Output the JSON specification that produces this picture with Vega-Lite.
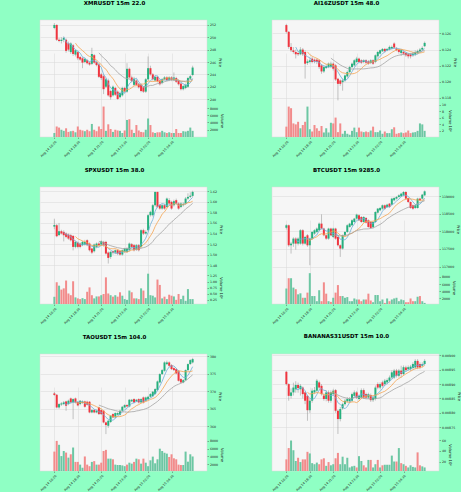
{
"$schema": "https://vega.github.io/schema/vega-lite/v6.json",
"background": "#8fffc4",
"padding": {"left": 38, "top": 0, "right": 0, "bottom": 0},
"config": {
 "view": {"fill": "#f6f6f6", "stroke": "#d9d9d9", "strokeWidth": 0.5},
 "axis": {"labelFont": "DejaVu Sans", "titleFont": "DejaVu Sans", "labelFontSize": 3.2, "titleFontSize": 3.8, "titleFontWeight": "normal", "labelColor": "#222222", "titleColor": "#222222", "gridColor": "#d8d8d8", "gridWidth": 0.5, "tickSize": 1.5, "tickColor": "#555555", "tickWidth": 0.5, "domain": false, "labelPadding": 1, "titlePadding": 2, "labelOverlap": false, "labelBound": false, "labelFlush": false},
 "axisY": {"tickCount": 20},
 "title": {"font": "DejaVu Sans", "fontSize": 5.5, "fontWeight": "bold", "color": "#000000", "offset": 13.5, "dx": -9}
},
"datasets": {
"xmr": [
{"i":0,"o":251.5,"h":252.3,"l":251.3,"c":252.0,"v":1100},
{"i":1,"o":252.0,"h":252.1,"l":249.4,"c":249.6,"v":2900},
{"i":2,"o":249.6,"h":249.9,"l":249.2,"c":249.4,"v":2600},
{"i":3,"o":249.4,"h":250.0,"l":249.0,"c":249.6,"v":2000},
{"i":4,"o":249.6,"h":250.1,"l":249.2,"c":249.9,"v":1700},
{"i":5,"o":249.6,"h":249.8,"l":247.5,"c":247.8,"v":2400},
{"i":6,"o":249.0,"h":249.3,"l":247.7,"c":248.0,"v":1400},
{"i":7,"o":247.6,"h":249.2,"l":247.3,"c":249.0,"v":1600},
{"i":8,"o":248.7,"h":248.9,"l":247.0,"c":247.3,"v":1700},
{"i":9,"o":247.2,"h":248.0,"l":246.9,"c":247.9,"v":1300},
{"i":10,"o":247.6,"h":247.8,"l":246.3,"c":246.6,"v":2900},
{"i":11,"o":246.8,"h":247.0,"l":246.2,"c":246.4,"v":2000},
{"i":12,"o":246.6,"h":246.8,"l":245.0,"c":245.9,"v":1800},
{"i":13,"o":246.0,"h":246.7,"l":245.8,"c":246.5,"v":1600},
{"i":14,"o":246.3,"h":246.5,"l":245.6,"c":245.8,"v":2000},
{"i":15,"o":245.9,"h":246.1,"l":245.4,"c":245.6,"v":1600},
{"i":16,"o":245.7,"h":248.3,"l":245.5,"c":247.3,"v":3600},
{"i":17,"o":247.1,"h":247.3,"l":245.7,"c":245.9,"v":2000},
{"i":18,"o":246.0,"h":246.2,"l":245.3,"c":245.5,"v":1600},
{"i":19,"o":245.6,"h":245.8,"l":243.4,"c":243.6,"v":2900},
{"i":20,"o":244.0,"h":244.2,"l":243.1,"c":243.4,"v":2200},
{"i":21,"o":243.7,"h":244.0,"l":240.8,"c":241.6,"v":8400},
{"i":22,"o":242.0,"h":243.4,"l":241.8,"c":243.2,"v":1700},
{"i":23,"o":243.0,"h":243.3,"l":240.4,"c":240.6,"v":3500},
{"i":24,"o":241.3,"h":241.5,"l":239.9,"c":240.3,"v":2200},
{"i":25,"o":240.6,"h":242.2,"l":240.4,"c":242.0,"v":1400},
{"i":26,"o":241.8,"h":242.0,"l":240.5,"c":240.7,"v":2000},
{"i":27,"o":241.2,"h":241.4,"l":239.9,"c":240.0,"v":1800},
{"i":28,"o":240.3,"h":241.2,"l":240.1,"c":241.0,"v":1700},
{"i":29,"o":240.6,"h":242.0,"l":240.4,"c":241.8,"v":1100},
{"i":30,"o":241.8,"h":242.0,"l":241.0,"c":241.2,"v":1800},
{"i":31,"o":241.2,"h":245.8,"l":241.0,"c":244.9,"v":4700},
{"i":32,"o":244.9,"h":245.1,"l":243.3,"c":243.5,"v":4900},
{"i":33,"o":243.5,"h":243.8,"l":242.7,"c":242.9,"v":2000},
{"i":34,"o":242.3,"h":243.6,"l":242.1,"c":243.3,"v":1100},
{"i":35,"o":243.0,"h":243.2,"l":242.1,"c":242.3,"v":3300},
{"i":36,"o":242.4,"h":242.6,"l":241.7,"c":241.9,"v":1800},
{"i":37,"o":242.3,"h":242.5,"l":241.1,"c":241.3,"v":1400},
{"i":38,"o":241.9,"h":242.1,"l":241.0,"c":241.2,"v":1300},
{"i":39,"o":241.2,"h":243.4,"l":241.0,"c":243.2,"v":2000},
{"i":40,"o":243.2,"h":246.9,"l":243.0,"c":245.0,"v":5100},
{"i":41,"o":245.0,"h":245.4,"l":243.8,"c":244.0,"v":3300},
{"i":42,"o":244.0,"h":244.2,"l":243.0,"c":243.2,"v":1300},
{"i":43,"o":243.0,"h":243.8,"l":242.8,"c":243.6,"v":1100},
{"i":44,"o":243.6,"h":243.8,"l":242.7,"c":242.9,"v":1300},
{"i":45,"o":243.0,"h":243.2,"l":242.2,"c":242.4,"v":1300},
{"i":46,"o":242.6,"h":243.4,"l":242.4,"c":243.2,"v":1700},
{"i":47,"o":243.2,"h":243.7,"l":243.0,"c":243.5,"v":1300},
{"i":48,"o":243.5,"h":243.7,"l":242.9,"c":243.1,"v":1100},
{"i":49,"o":243.1,"h":243.7,"l":242.9,"c":243.5,"v":1300},
{"i":50,"o":243.5,"h":243.7,"l":242.9,"c":243.1,"v":1100},
{"i":51,"o":243.1,"h":244.3,"l":242.9,"c":243.5,"v":1100},
{"i":52,"o":243.4,"h":243.6,"l":242.6,"c":242.8,"v":2200},
{"i":53,"o":243.0,"h":243.2,"l":242.2,"c":242.4,"v":1100},
{"i":54,"o":242.5,"h":242.7,"l":241.4,"c":241.6,"v":1100},
{"i":55,"o":241.6,"h":242.3,"l":241.4,"c":242.1,"v":1600},
{"i":56,"o":241.8,"h":242.5,"l":241.6,"c":242.3,"v":1500},
{"i":57,"o":242.0,"h":243.6,"l":241.8,"c":243.4,"v":1700},
{"i":58,"o":243.3,"h":243.9,"l":243.1,"c":243.7,"v":2600},
{"i":59,"o":243.9,"h":245.4,"l":243.7,"c":245.1,"v":1700}
],
"ai16z": [
{"i":0,"o":0.12704,"h":0.12720,"l":0.12600,"c":0.12620,"v":3200000},
{"i":1,"o":0.12620,"h":0.12630,"l":0.12410,"c":0.12433,"v":9400000},
{"i":2,"o":0.12433,"h":0.12480,"l":0.12370,"c":0.12392,"v":8900000},
{"i":3,"o":0.12390,"h":0.12430,"l":0.12350,"c":0.12370,"v":4200000},
{"i":4,"o":0.12370,"h":0.12400,"l":0.12290,"c":0.12342,"v":3900000},
{"i":5,"o":0.12358,"h":0.12380,"l":0.12320,"c":0.12342,"v":4700000},
{"i":6,"o":0.12342,"h":0.12430,"l":0.12330,"c":0.12400,"v":2700000},
{"i":7,"o":0.12400,"h":0.12420,"l":0.12320,"c":0.12342,"v":3700000},
{"i":8,"o":0.12370,"h":0.12390,"l":0.12040,"c":0.12225,"v":4700000},
{"i":9,"o":0.12233,"h":0.12280,"l":0.12210,"c":0.12254,"v":9400000},
{"i":10,"o":0.12246,"h":0.12300,"l":0.12230,"c":0.12267,"v":2400000},
{"i":11,"o":0.12288,"h":0.12310,"l":0.12230,"c":0.12246,"v":1700000},
{"i":12,"o":0.12275,"h":0.12290,"l":0.12230,"c":0.12254,"v":3700000},
{"i":13,"o":0.12275,"h":0.12290,"l":0.12220,"c":0.12246,"v":2700000},
{"i":14,"o":0.12267,"h":0.12280,"l":0.12160,"c":0.12183,"v":1900000},
{"i":15,"o":0.12204,"h":0.12220,"l":0.12100,"c":0.12129,"v":3400000},
{"i":16,"o":0.12129,"h":0.12200,"l":0.12110,"c":0.12183,"v":1400000},
{"i":17,"o":0.12171,"h":0.12220,"l":0.12160,"c":0.12196,"v":2700000},
{"i":18,"o":0.12183,"h":0.12240,"l":0.12170,"c":0.12225,"v":1400000},
{"i":19,"o":0.12183,"h":0.12250,"l":0.12170,"c":0.12225,"v":4400000},
{"i":20,"o":0.12225,"h":0.12240,"l":0.12140,"c":0.12163,"v":4200000},
{"i":21,"o":0.12204,"h":0.12220,"l":0.12010,"c":0.12029,"v":6000000},
{"i":22,"o":0.12038,"h":0.12050,"l":0.11770,"c":0.11975,"v":1500000},
{"i":23,"o":0.12017,"h":0.12030,"l":0.11950,"c":0.11975,"v":4200000},
{"i":24,"o":0.11996,"h":0.12040,"l":0.11890,"c":0.12017,"v":1000000},
{"i":25,"o":0.12017,"h":0.12090,"l":0.12000,"c":0.12079,"v":1900000},
{"i":26,"o":0.12067,"h":0.12140,"l":0.12050,"c":0.12121,"v":1000000},
{"i":27,"o":0.12121,"h":0.12200,"l":0.12110,"c":0.12183,"v":700000},
{"i":28,"o":0.12183,"h":0.12240,"l":0.12170,"c":0.12225,"v":1900000},
{"i":29,"o":0.12204,"h":0.12280,"l":0.12190,"c":0.12267,"v":2900000},
{"i":30,"o":0.12246,"h":0.12310,"l":0.12230,"c":0.12288,"v":1500000},
{"i":31,"o":0.12288,"h":0.12300,"l":0.12230,"c":0.12246,"v":2900000},
{"i":32,"o":0.12267,"h":0.12280,"l":0.12220,"c":0.12238,"v":1700000},
{"i":33,"o":0.12246,"h":0.12280,"l":0.12230,"c":0.12267,"v":1500000},
{"i":34,"o":0.12267,"h":0.12280,"l":0.12220,"c":0.12238,"v":1700000},
{"i":35,"o":0.12254,"h":0.12270,"l":0.12210,"c":0.12225,"v":1500000},
{"i":36,"o":0.12233,"h":0.12280,"l":0.12220,"c":0.12267,"v":2000000},
{"i":37,"o":0.12267,"h":0.12280,"l":0.12210,"c":0.12225,"v":3200000},
{"i":38,"o":0.12246,"h":0.12340,"l":0.12230,"c":0.12329,"v":1500000},
{"i":39,"o":0.12317,"h":0.12380,"l":0.12300,"c":0.12371,"v":1500000},
{"i":40,"o":0.12350,"h":0.12400,"l":0.12340,"c":0.12392,"v":2000000},
{"i":41,"o":0.12379,"h":0.12420,"l":0.12370,"c":0.12408,"v":1000000},
{"i":42,"o":0.12408,"h":0.12420,"l":0.12360,"c":0.12379,"v":1700000},
{"i":43,"o":0.12390,"h":0.12420,"l":0.12380,"c":0.12408,"v":1200000},
{"i":44,"o":0.12400,"h":0.12450,"l":0.12390,"c":0.12433,"v":1200000},
{"i":45,"o":0.12413,"h":0.12450,"l":0.12400,"c":0.12433,"v":2400000},
{"i":46,"o":0.12475,"h":0.12490,"l":0.12410,"c":0.12425,"v":3000000},
{"i":47,"o":0.12413,"h":0.12430,"l":0.12380,"c":0.12392,"v":1000000},
{"i":48,"o":0.12400,"h":0.12410,"l":0.12350,"c":0.12371,"v":1200000},
{"i":49,"o":0.12358,"h":0.12410,"l":0.12320,"c":0.12392,"v":1400000},
{"i":50,"o":0.12371,"h":0.12390,"l":0.12330,"c":0.12350,"v":1200000},
{"i":51,"o":0.12358,"h":0.12370,"l":0.12310,"c":0.12329,"v":1400000},
{"i":52,"o":0.12342,"h":0.12360,"l":0.12290,"c":0.12317,"v":2000000},
{"i":53,"o":0.12342,"h":0.12360,"l":0.12290,"c":0.12317,"v":1200000},
{"i":54,"o":0.12329,"h":0.12370,"l":0.12310,"c":0.12350,"v":1400000},
{"i":55,"o":0.12338,"h":0.12390,"l":0.12320,"c":0.12371,"v":1500000},
{"i":56,"o":0.12358,"h":0.12400,"l":0.12340,"c":0.12383,"v":1900000},
{"i":57,"o":0.12379,"h":0.12420,"l":0.12360,"c":0.12400,"v":4200000},
{"i":58,"o":0.12400,"h":0.12440,"l":0.12390,"c":0.12421,"v":3900000},
{"i":59,"o":0.12442,"h":0.12500,"l":0.12430,"c":0.12483,"v":1900000}
],
"spx": [
{"i":0,"o":1.5530,"h":1.5680,"l":1.5480,"c":1.5560,"v":375000},
{"i":1,"o":1.5556,"h":1.5580,"l":1.5330,"c":1.5348,"v":970000},
{"i":2,"o":1.5370,"h":1.5600,"l":1.5350,"c":1.5443,"v":830000},
{"i":3,"o":1.5443,"h":1.5470,"l":1.5380,"c":1.5400,"v":670000},
{"i":4,"o":1.5430,"h":1.5460,"l":1.5250,"c":1.5367,"v":720000},
{"i":5,"o":1.5399,"h":1.5420,"l":1.5310,"c":1.5336,"v":1040000},
{"i":6,"o":1.5380,"h":1.5400,"l":1.5280,"c":1.5304,"v":510000},
{"i":7,"o":1.5367,"h":1.5390,"l":1.5250,"c":1.5272,"v":440000},
{"i":8,"o":1.5354,"h":1.5370,"l":1.5080,"c":1.5146,"v":1010000},
{"i":9,"o":1.5146,"h":1.5260,"l":1.5120,"c":1.5241,"v":350000},
{"i":10,"o":1.5228,"h":1.5250,"l":1.5120,"c":1.5146,"v":310000},
{"i":11,"o":1.5209,"h":1.5230,"l":1.5120,"c":1.5146,"v":280000},
{"i":12,"o":1.5178,"h":1.5260,"l":1.5160,"c":1.5241,"v":320000},
{"i":13,"o":1.5190,"h":1.5280,"l":1.5170,"c":1.5241,"v":280000},
{"i":14,"o":1.5272,"h":1.5290,"l":1.5160,"c":1.5178,"v":580000},
{"i":15,"o":1.5209,"h":1.5230,"l":1.5060,"c":1.5083,"v":760000},
{"i":16,"o":1.5115,"h":1.5130,"l":1.5010,"c":1.5039,"v":440000},
{"i":17,"o":1.5064,"h":1.5210,"l":1.5040,"c":1.5190,"v":310000},
{"i":18,"o":1.5146,"h":1.5230,"l":1.5120,"c":1.5209,"v":390000},
{"i":19,"o":1.5209,"h":1.5240,"l":1.5150,"c":1.5178,"v":390000},
{"i":20,"o":1.5190,"h":1.5270,"l":1.5170,"c":1.5253,"v":440000},
{"i":21,"o":1.5241,"h":1.5260,"l":1.5150,"c":1.5178,"v":490000},
{"i":22,"o":1.5241,"h":1.5260,"l":1.5000,"c":1.5020,"v":1170000},
{"i":23,"o":1.5039,"h":1.5060,"l":1.4831,"c":1.4938,"v":510000},
{"i":24,"o":1.4957,"h":1.5070,"l":1.4920,"c":1.5052,"v":440000},
{"i":25,"o":1.5064,"h":1.5080,"l":1.5000,"c":1.5039,"v":380000},
{"i":26,"o":1.5039,"h":1.5100,"l":1.5010,"c":1.5083,"v":440000},
{"i":27,"o":1.5083,"h":1.5100,"l":1.4990,"c":1.5020,"v":380000},
{"i":28,"o":1.5064,"h":1.5080,"l":1.4980,"c":1.5001,"v":560000},
{"i":29,"o":1.5001,"h":1.5100,"l":1.4980,"c":1.5083,"v":420000},
{"i":30,"o":1.5052,"h":1.5130,"l":1.5030,"c":1.5115,"v":280000},
{"i":31,"o":1.5052,"h":1.5140,"l":1.5030,"c":1.5115,"v":250000},
{"i":32,"o":1.5083,"h":1.5230,"l":1.5060,"c":1.5209,"v":630000},
{"i":33,"o":1.5197,"h":1.5220,"l":1.5120,"c":1.5146,"v":560000},
{"i":34,"o":1.5178,"h":1.5200,"l":1.5060,"c":1.5083,"v":310000},
{"i":35,"o":1.5096,"h":1.5200,"l":1.5070,"c":1.5178,"v":310000},
{"i":36,"o":1.5178,"h":1.5200,"l":1.5060,"c":1.5083,"v":280000},
{"i":37,"o":1.5146,"h":1.5480,"l":1.5120,"c":1.5462,"v":720000},
{"i":38,"o":1.5462,"h":1.5490,"l":1.5370,"c":1.5399,"v":630000},
{"i":39,"o":1.5399,"h":1.5460,"l":1.5380,"c":1.5430,"v":320000},
{"i":40,"o":1.5462,"h":1.5770,"l":1.5440,"c":1.5746,"v":1320000},
{"i":41,"o":1.5746,"h":1.5830,"l":1.5720,"c":1.5809,"v":440000},
{"i":42,"o":1.5746,"h":1.5960,"l":1.5720,"c":1.5935,"v":420000},
{"i":43,"o":1.5935,"h":1.6190,"l":1.5910,"c":1.6187,"v":350000},
{"i":44,"o":1.6187,"h":1.6190,"l":1.5880,"c":1.5903,"v":1080000},
{"i":45,"o":1.5935,"h":1.5960,"l":1.5850,"c":1.5872,"v":860000},
{"i":46,"o":1.5872,"h":1.5960,"l":1.5850,"c":1.5935,"v":310000},
{"i":47,"o":1.5935,"h":1.5960,"l":1.5850,"c":1.5872,"v":380000},
{"i":48,"o":1.5903,"h":1.6080,"l":1.5880,"c":1.6061,"v":280000},
{"i":49,"o":1.6030,"h":1.6070,"l":1.5940,"c":1.5967,"v":460000},
{"i":50,"o":1.5998,"h":1.6020,"l":1.5850,"c":1.5872,"v":420000},
{"i":51,"o":1.5935,"h":1.6040,"l":1.5910,"c":1.6011,"v":390000},
{"i":52,"o":1.6030,"h":1.6060,"l":1.5940,"c":1.5967,"v":250000},
{"i":53,"o":1.5967,"h":1.5990,"l":1.5850,"c":1.5872,"v":490000},
{"i":54,"o":1.5903,"h":1.5990,"l":1.5880,"c":1.5967,"v":280000},
{"i":55,"o":1.5935,"h":1.5990,"l":1.5910,"c":1.5960,"v":420000},
{"i":56,"o":1.5967,"h":1.6090,"l":1.5940,"c":1.6061,"v":210000},
{"i":57,"o":1.6061,"h":1.6160,"l":1.6040,"c":1.6093,"v":690000},
{"i":58,"o":1.6093,"h":1.6180,"l":1.6070,"c":1.6115,"v":280000},
{"i":59,"o":1.6112,"h":1.6210,"l":1.6090,"c":1.6187,"v":280000}
],
"btc": [
{"i":0,"o":118100,"h":118200,"l":118050,"c":118170,"v":4750},
{"i":1,"o":118170,"h":118190,"l":117560,"c":117604,"v":7600},
{"i":2,"o":117604,"h":117700,"l":117369,"c":117651,"v":7600},
{"i":3,"o":117651,"h":117830,"l":117560,"c":117793,"v":5000},
{"i":4,"o":117793,"h":117830,"l":117480,"c":117651,"v":4560},
{"i":5,"o":117651,"h":117830,"l":117600,"c":117793,"v":3135},
{"i":6,"o":117651,"h":118060,"l":117620,"c":118029,"v":3420},
{"i":7,"o":118029,"h":118060,"l":117600,"c":117651,"v":2185},
{"i":8,"o":117651,"h":117870,"l":117620,"c":117840,"v":2185},
{"i":9,"o":117887,"h":117920,"l":117560,"c":117604,"v":3610},
{"i":10,"o":117604,"h":117820,"l":117039,"c":117793,"v":9000},
{"i":11,"o":117793,"h":118000,"l":117760,"c":117982,"v":2660},
{"i":12,"o":117934,"h":118060,"l":117900,"c":118029,"v":2660},
{"i":13,"o":117982,"h":118110,"l":117950,"c":118076,"v":1235},
{"i":14,"o":118029,"h":118250,"l":118000,"c":118217,"v":4275},
{"i":15,"o":118217,"h":118481,"l":118050,"c":118076,"v":1235},
{"i":16,"o":118076,"h":118100,"l":117860,"c":117887,"v":6460},
{"i":17,"o":117887,"h":117910,"l":117760,"c":117793,"v":3325},
{"i":18,"o":117793,"h":118100,"l":117760,"c":118076,"v":1235},
{"i":19,"o":118076,"h":118100,"l":117860,"c":117887,"v":1045},
{"i":20,"o":117840,"h":118100,"l":117810,"c":118076,"v":2185},
{"i":21,"o":118076,"h":118100,"l":117760,"c":117793,"v":3610},
{"i":22,"o":117840,"h":117870,"l":117570,"c":117604,"v":5700},
{"i":23,"o":117604,"h":117630,"l":117274,"c":117510,"v":2660},
{"i":24,"o":117510,"h":117910,"l":117480,"c":117887,"v":2660},
{"i":25,"o":117887,"h":118000,"l":117860,"c":117982,"v":2185},
{"i":26,"o":117982,"h":118200,"l":117950,"c":118170,"v":2375},
{"i":27,"o":118123,"h":118240,"l":118100,"c":118217,"v":1235},
{"i":28,"o":118170,"h":118340,"l":118150,"c":118312,"v":1235},
{"i":29,"o":118264,"h":118380,"l":118240,"c":118359,"v":1995},
{"i":30,"o":118359,"h":118500,"l":118330,"c":118472,"v":1710},
{"i":31,"o":118453,"h":118480,"l":118290,"c":118312,"v":1710},
{"i":32,"o":118406,"h":118430,"l":118240,"c":118264,"v":1235},
{"i":33,"o":118264,"h":118430,"l":118240,"c":118406,"v":1710},
{"i":34,"o":118378,"h":118400,"l":118220,"c":118246,"v":1710},
{"i":35,"o":118312,"h":118340,"l":118100,"c":118123,"v":3325},
{"i":36,"o":118264,"h":118290,"l":118070,"c":118095,"v":1425},
{"i":37,"o":118123,"h":118290,"l":118070,"c":118264,"v":950},
{"i":38,"o":118264,"h":118570,"l":118240,"c":118547,"v":2945},
{"i":39,"o":118528,"h":118660,"l":118500,"c":118642,"v":2945},
{"i":40,"o":118594,"h":118690,"l":118570,"c":118660,"v":1235},
{"i":41,"o":118642,"h":118760,"l":118610,"c":118736,"v":1710},
{"i":42,"o":118736,"h":118760,"l":118610,"c":118642,"v":760},
{"i":43,"o":118689,"h":118780,"l":118660,"c":118755,"v":1995},
{"i":44,"o":118783,"h":118800,"l":118660,"c":118689,"v":1235},
{"i":45,"o":118755,"h":118950,"l":118730,"c":118925,"v":1710},
{"i":46,"o":118877,"h":118970,"l":118850,"c":118943,"v":1995},
{"i":47,"o":118925,"h":119000,"l":118900,"c":118972,"v":2185},
{"i":48,"o":118972,"h":119050,"l":118950,"c":119019,"v":1235},
{"i":49,"o":118990,"h":119090,"l":118970,"c":119066,"v":1710},
{"i":50,"o":119019,"h":119140,"l":118990,"c":119113,"v":1520},
{"i":51,"o":119113,"h":119140,"l":118900,"c":118925,"v":950},
{"i":52,"o":118943,"h":118960,"l":118800,"c":118830,"v":950},
{"i":53,"o":118830,"h":118850,"l":118640,"c":118660,"v":1995},
{"i":54,"o":118736,"h":118760,"l":118610,"c":118642,"v":1235},
{"i":55,"o":118660,"h":118760,"l":118630,"c":118736,"v":1235},
{"i":56,"o":118660,"h":118950,"l":118640,"c":118925,"v":2470},
{"i":57,"o":118925,"h":118950,"l":118850,"c":118877,"v":2660},
{"i":58,"o":118925,"h":119060,"l":118900,"c":119038,"v":1235},
{"i":59,"o":119019,"h":119160,"l":119000,"c":119132,"v":760}
],
"tao": [
{"i":0,"o":369.39,"h":369.8,"l":368.7,"c":368.95,"v":5250},
{"i":1,"o":369.0,"h":369.2,"l":365.1,"c":365.37,"v":8000},
{"i":2,"o":365.37,"h":366.6,"l":365.0,"c":366.33,"v":7000},
{"i":3,"o":366.2,"h":366.9,"l":365.8,"c":366.52,"v":4100},
{"i":4,"o":366.33,"h":367.2,"l":366.0,"c":366.81,"v":5400},
{"i":5,"o":367.09,"h":367.3,"l":364.42,"c":365.85,"v":5000},
{"i":6,"o":366.33,"h":367.6,"l":366.0,"c":367.29,"v":3700},
{"i":7,"o":367.95,"h":368.2,"l":366.5,"c":366.81,"v":4560},
{"i":8,"o":366.81,"h":368.0,"l":362.0,"c":367.76,"v":6300},
{"i":9,"o":367.95,"h":368.2,"l":366.5,"c":366.81,"v":2600},
{"i":10,"o":366.9,"h":367.2,"l":365.7,"c":365.95,"v":2600},
{"i":11,"o":366.33,"h":367.5,"l":366.0,"c":367.29,"v":1900},
{"i":12,"o":366.7,"h":367.4,"l":366.4,"c":367.1,"v":1100},
{"i":13,"o":367.09,"h":367.3,"l":365.3,"c":365.56,"v":4000},
{"i":14,"o":367.0,"h":367.3,"l":365.9,"c":366.14,"v":1900},
{"i":15,"o":367.0,"h":367.2,"l":363.7,"c":363.94,"v":1500},
{"i":16,"o":363.94,"h":364.9,"l":363.7,"c":364.61,"v":2600},
{"i":17,"o":364.61,"h":364.9,"l":363.7,"c":363.94,"v":2800},
{"i":18,"o":363.94,"h":364.7,"l":363.7,"c":364.42,"v":1900},
{"i":19,"o":365.37,"h":365.6,"l":363.2,"c":363.46,"v":1900},
{"i":20,"o":364.61,"h":364.9,"l":363.2,"c":363.46,"v":2400},
{"i":21,"o":364.42,"h":364.6,"l":360.8,"c":361.07,"v":5400},
{"i":22,"o":361.07,"h":361.3,"l":357.72,"c":360.31,"v":5700},
{"i":23,"o":360.11,"h":361.8,"l":359.5,"c":361.55,"v":3440},
{"i":24,"o":361.2,"h":363.2,"l":360.9,"c":362.98,"v":3440},
{"i":25,"o":363.46,"h":363.7,"l":362.3,"c":362.51,"v":3270},
{"i":26,"o":362.51,"h":364.0,"l":362.2,"c":363.76,"v":1900},
{"i":27,"o":363.27,"h":364.0,"l":363.0,"c":363.76,"v":1800},
{"i":28,"o":363.27,"h":364.7,"l":363.0,"c":364.42,"v":1800},
{"i":29,"o":364.42,"h":365.8,"l":364.2,"c":365.56,"v":1700},
{"i":30,"o":365.37,"h":366.3,"l":365.1,"c":366.04,"v":1500},
{"i":31,"o":366.04,"h":366.3,"l":365.4,"c":365.66,"v":1900},
{"i":32,"o":365.66,"h":367.8,"l":365.4,"c":367.57,"v":2400},
{"i":33,"o":367.1,"h":367.8,"l":366.9,"c":367.57,"v":2150},
{"i":34,"o":367.76,"h":368.0,"l":366.5,"c":366.81,"v":2600},
{"i":35,"o":367.1,"h":367.8,"l":366.9,"c":367.57,"v":3440},
{"i":36,"o":367.76,"h":368.0,"l":366.5,"c":366.81,"v":3270},
{"i":37,"o":366.81,"h":368.0,"l":366.6,"c":367.76,"v":2150},
{"i":38,"o":368.24,"h":368.5,"l":366.5,"c":366.81,"v":3440},
{"i":39,"o":367.29,"h":368.5,"l":367.0,"c":368.24,"v":2400},
{"i":40,"o":367.76,"h":368.7,"l":367.5,"c":368.43,"v":1500},
{"i":41,"o":368.43,"h":369.5,"l":368.2,"c":369.2,"v":3010},
{"i":42,"o":368.6,"h":370.1,"l":368.4,"c":369.87,"v":3960},
{"i":43,"o":369.2,"h":370.9,"l":369.0,"c":370.63,"v":2240},
{"i":44,"o":370.34,"h":373.1,"l":370.1,"c":372.83,"v":3270},
{"i":45,"o":372.54,"h":375.2,"l":372.3,"c":374.93,"v":6000},
{"i":46,"o":374.93,"h":376.4,"l":374.7,"c":376.08,"v":5400},
{"i":47,"o":375.89,"h":378.6,"l":375.6,"c":378.28,"v":4950},
{"i":48,"o":377.8,"h":378.8,"l":377.5,"c":378.28,"v":4730},
{"i":49,"o":378.28,"h":378.6,"l":377.0,"c":377.32,"v":3870},
{"i":50,"o":377.51,"h":377.8,"l":376.1,"c":376.37,"v":4560},
{"i":51,"o":376.65,"h":376.9,"l":375.8,"c":376.08,"v":3530},
{"i":52,"o":376.37,"h":376.6,"l":374.9,"c":375.12,"v":3270},
{"i":53,"o":375.89,"h":376.1,"l":372.8,"c":373.02,"v":1900},
{"i":54,"o":373.5,"h":373.8,"l":372.3,"c":372.54,"v":1800},
{"i":55,"o":372.54,"h":373.5,"l":372.3,"c":373.21,"v":1800},
{"i":56,"o":373.21,"h":376.3,"l":373.0,"c":376.08,"v":5250},
{"i":57,"o":376.08,"h":378.0,"l":375.8,"c":377.8,"v":2660},
{"i":58,"o":377.8,"h":379.2,"l":377.6,"c":378.95,"v":4560},
{"i":59,"o":378.28,"h":379.6,"l":378.0,"c":379.24,"v":4000}
],
"banana": [
{"i":0,"o":0.008943,"h":0.008946,"l":0.008895,"c":0.008900,"v":24000000},
{"i":1,"o":0.008900,"h":0.008903,"l":0.008842,"c":0.008859,"v":45000000},
{"i":2,"o":0.008859,"h":0.008885,"l":0.008850,"c":0.008871,"v":59000000},
{"i":3,"o":0.008871,"h":0.008905,"l":0.008860,"c":0.008888,"v":41000000},
{"i":4,"o":0.008882,"h":0.008910,"l":0.008870,"c":0.008897,"v":21000000},
{"i":5,"o":0.008897,"h":0.008905,"l":0.008870,"c":0.008886,"v":27000000},
{"i":6,"o":0.008882,"h":0.008900,"l":0.008860,"c":0.008894,"v":19000000},
{"i":7,"o":0.008888,"h":0.008892,"l":0.008850,"c":0.008865,"v":24000000},
{"i":8,"o":0.008871,"h":0.008875,"l":0.008830,"c":0.008842,"v":24000000},
{"i":9,"o":0.008859,"h":0.008862,"l":0.008772,"c":0.008809,"v":38000000},
{"i":10,"o":0.008809,"h":0.008850,"l":0.008800,"c":0.008842,"v":35000000},
{"i":11,"o":0.008842,"h":0.008885,"l":0.008835,"c":0.008877,"v":17000000},
{"i":12,"o":0.008871,"h":0.008890,"l":0.008865,"c":0.008879,"v":15000000},
{"i":13,"o":0.008877,"h":0.008918,"l":0.008870,"c":0.008912,"v":18000000},
{"i":14,"o":0.008906,"h":0.008912,"l":0.008880,"c":0.008888,"v":15000000},
{"i":15,"o":0.008894,"h":0.008900,"l":0.008860,"c":0.008865,"v":24000000},
{"i":16,"o":0.008860,"h":0.008868,"l":0.008842,"c":0.008848,"v":26000000},
{"i":17,"o":0.008848,"h":0.008878,"l":0.008840,"c":0.008871,"v":12000000},
{"i":18,"o":0.008871,"h":0.008878,"l":0.008835,"c":0.008842,"v":19000000},
{"i":19,"o":0.008842,"h":0.008878,"l":0.008835,"c":0.008871,"v":13000000},
{"i":20,"o":0.008865,"h":0.008882,"l":0.008860,"c":0.008877,"v":15000000},
{"i":21,"o":0.008879,"h":0.008883,"l":0.008800,"c":0.008807,"v":26000000},
{"i":22,"o":0.008807,"h":0.008812,"l":0.008726,"c":0.008778,"v":36000000},
{"i":23,"o":0.008778,"h":0.008820,"l":0.008770,"c":0.008813,"v":15000000},
{"i":24,"o":0.008815,"h":0.008835,"l":0.008810,"c":0.008830,"v":29000000},
{"i":25,"o":0.008830,"h":0.008848,"l":0.008825,"c":0.008842,"v":15000000},
{"i":26,"o":0.008840,"h":0.008855,"l":0.008835,"c":0.008848,"v":27000000},
{"i":27,"o":0.008840,"h":0.008855,"l":0.008835,"c":0.008848,"v":9000000},
{"i":28,"o":0.008842,"h":0.008870,"l":0.008838,"c":0.008865,"v":11000000},
{"i":29,"o":0.008859,"h":0.008878,"l":0.008855,"c":0.008871,"v":12000000},
{"i":30,"o":0.008871,"h":0.008876,"l":0.008848,"c":0.008853,"v":9000000},
{"i":31,"o":0.008848,"h":0.008864,"l":0.008843,"c":0.008859,"v":30000000},
{"i":32,"o":0.008853,"h":0.008885,"l":0.008848,"c":0.008879,"v":21000000},
{"i":33,"o":0.008879,"h":0.008885,"l":0.008848,"c":0.008853,"v":13000000},
{"i":34,"o":0.008865,"h":0.008870,"l":0.008848,"c":0.008853,"v":9000000},
{"i":35,"o":0.008853,"h":0.008870,"l":0.008848,"c":0.008865,"v":23000000},
{"i":36,"o":0.008862,"h":0.008867,"l":0.008838,"c":0.008844,"v":23000000},
{"i":37,"o":0.008844,"h":0.008858,"l":0.008838,"c":0.008853,"v":9000000},
{"i":38,"o":0.008848,"h":0.008895,"l":0.008843,"c":0.008888,"v":15000000},
{"i":39,"o":0.008900,"h":0.008906,"l":0.008882,"c":0.008888,"v":23000000},
{"i":40,"o":0.008888,"h":0.008906,"l":0.008882,"c":0.008900,"v":9000000},
{"i":41,"o":0.008906,"h":0.008912,"l":0.008888,"c":0.008894,"v":13000000},
{"i":42,"o":0.008900,"h":0.008918,"l":0.008894,"c":0.008912,"v":14000000},
{"i":43,"o":0.008906,"h":0.008920,"l":0.008900,"c":0.008914,"v":14000000},
{"i":44,"o":0.008912,"h":0.008930,"l":0.008906,"c":0.008923,"v":14000000},
{"i":45,"o":0.008923,"h":0.008948,"l":0.008918,"c":0.008941,"v":31000000},
{"i":46,"o":0.008923,"h":0.008953,"l":0.008918,"c":0.008947,"v":20000000},
{"i":47,"o":0.008947,"h":0.008953,"l":0.008923,"c":0.008929,"v":20000000},
{"i":48,"o":0.008929,"h":0.008953,"l":0.008923,"c":0.008947,"v":45000000},
{"i":49,"o":0.008947,"h":0.008964,"l":0.008923,"c":0.008935,"v":17000000},
{"i":50,"o":0.008935,"h":0.008965,"l":0.008930,"c":0.008959,"v":15000000},
{"i":51,"o":0.008958,"h":0.008964,"l":0.008943,"c":0.008949,"v":12000000},
{"i":52,"o":0.008952,"h":0.008965,"l":0.008946,"c":0.008959,"v":9000000},
{"i":53,"o":0.008952,"h":0.008967,"l":0.008946,"c":0.008961,"v":13000000},
{"i":54,"o":0.008956,"h":0.008976,"l":0.008950,"c":0.008970,"v":10000000},
{"i":55,"o":0.008958,"h":0.008987,"l":0.008952,"c":0.008981,"v":9000000},
{"i":56,"o":0.008981,"h":0.008987,"l":0.008952,"c":0.008958,"v":37000000},
{"i":57,"o":0.008970,"h":0.008976,"l":0.008952,"c":0.008958,"v":13000000},
{"i":58,"o":0.008964,"h":0.008976,"l":0.008958,"c":0.008970,"v":11000000},
{"i":59,"o":0.008970,"h":0.008987,"l":0.008965,"c":0.008981,"v":9000000}
]
},
"bounds": "flush",
"columns": 2,
"spacing": {"row": 50, "column": 65},
"concat": [
{"title": {"text": "XMRUSDT 15m 22.0"}, "width": 167, "height": 117, "data": {"name": "xmr"},
 "encoding": {"x": {"field": "i", "type": "quantitative", "scale": {"domain": [-4, 63], "nice": false, "zero": false}, "axis": {"values": [0,10,20,30,40,50], "labelAngle": -45, "title": null, "grid": true, "labelExpr": "['Aug 14 16:00','Aug 14 18:30','Aug 14 21:00','Aug 14 23:30','Aug 15 02:00','Aug 15 04:30'][datum.value/10]"}}},
 "resolve": {"scale": {"y": "independent"}, "axis": {"y": "independent"}},
 "layer": [
  {"layer": [
   {"mark": {"type": "rule", "color": "#8c8c8c", "strokeWidth": 0.5, "clip": true}, "encoding": {"y": {"field": "l", "type": "quantitative", "title": "Price", "scale": {"domain": [239.2, 252.8], "range": [84, 0], "nice": false, "zero": false}, "axis": {"orient": "right", "values": [240,242,244,246,248,250,252], "format": "d", "labelOverlap": false, "tickCount": 20}}, "y2": {"field": "h"}}},
   {"mark": {"type": "bar", "size": 2, "clip": true}, "encoding": {"y": {"field": "o", "type": "quantitative", "title": "Price"}, "y2": {"field": "c"}, "color": {"condition": {"test": "datum.c >= datum.o", "value": "#26b07e"}, "value": "#f0353f"}}},
   {"transform": [{"window": [{"op": "mean", "field": "c", "as": "m"}, {"op": "row_number", "as": "r"}], "frame": [-4, 0], "sort": [{"field": "i"}]}, {"filter": "datum.r >= 5"}], "mark": {"type": "line", "color": "#6fb0d8", "strokeWidth": 0.8, "clip": true}, "encoding": {"y": {"field": "m", "type": "quantitative", "title": "Price"}}},
   {"transform": [{"window": [{"op": "mean", "field": "c", "as": "m"}, {"op": "row_number", "as": "r"}], "frame": [-9, 0], "sort": [{"field": "i"}]}, {"filter": "datum.r >= 10"}], "mark": {"type": "line", "color": "#f5a552", "strokeWidth": 0.8, "clip": true}, "encoding": {"y": {"field": "m", "type": "quantitative", "title": "Price"}}},
   {"transform": [{"window": [{"op": "mean", "field": "c", "as": "m"}, {"op": "row_number", "as": "r"}], "frame": [-19, 0], "sort": [{"field": "i"}]}, {"filter": "datum.r >= 20"}], "mark": {"type": "line", "color": "#a3a3a3", "strokeWidth": 0.8, "clip": true}, "encoding": {"y": {"field": "m", "type": "quantitative", "title": "Price"}}}
  ]},
  {"mark": {"type": "bar", "size": 2, "clip": true},
   "encoding": {"y": {"field": "v", "type": "quantitative", "title": "Volume", "scale": {"domain": [0, 9100], "range": [117, 84], "nice": false, "zero": false}, "axis": {"orient": "right", "values": [2000,4000,6000,8000], "format": "d", "labelOverlap": false, "tickCount": 20}},
    "color": {"condition": {"test": "datum.c >= datum.o", "value": "#6cc7a3"}, "value": "#f28b8b"}}}
 ]},
{"title": {"text": "AI16ZUSDT 15m 48.0"}, "width": 167, "height": 117, "data": {"name": "ai16z"},
 "encoding": {"x": {"field": "i", "type": "quantitative", "scale": {"domain": [-4, 63], "nice": false, "zero": false}, "axis": {"values": [0,10,20,30,40,50], "labelAngle": -45, "title": null, "grid": true, "labelExpr": "['Aug 14 16:00','Aug 14 18:30','Aug 14 21:00','Aug 14 23:30','Aug 15 02:00','Aug 15 04:30'][datum.value/10]"}}},
 "resolve": {"scale": {"y": "independent"}, "axis": {"y": "independent"}},
 "layer": [
  {"layer": [
   {"mark": {"type": "rule", "color": "#8c8c8c", "strokeWidth": 0.5, "clip": true}, "encoding": {"y": {"field": "l", "type": "quantitative", "title": "Price", "scale": {"domain": [0.11725, 0.12767], "range": [84, 0], "nice": false, "zero": false}, "axis": {"orient": "right", "values": [0.118,0.120,0.122,0.124,0.126], "format": ".3f", "labelOverlap": false, "tickCount": 20}}, "y2": {"field": "h"}}},
   {"mark": {"type": "bar", "size": 2, "clip": true}, "encoding": {"y": {"field": "o", "type": "quantitative", "title": "Price"}, "y2": {"field": "c"}, "color": {"condition": {"test": "datum.c >= datum.o", "value": "#26b07e"}, "value": "#f0353f"}}},
   {"transform": [{"window": [{"op": "mean", "field": "c", "as": "m"}, {"op": "row_number", "as": "r"}], "frame": [-4, 0], "sort": [{"field": "i"}]}, {"filter": "datum.r >= 5"}], "mark": {"type": "line", "color": "#6fb0d8", "strokeWidth": 0.8, "clip": true}, "encoding": {"y": {"field": "m", "type": "quantitative", "title": "Price"}}},
   {"transform": [{"window": [{"op": "mean", "field": "c", "as": "m"}, {"op": "row_number", "as": "r"}], "frame": [-9, 0], "sort": [{"field": "i"}]}, {"filter": "datum.r >= 10"}], "mark": {"type": "line", "color": "#f5a552", "strokeWidth": 0.8, "clip": true}, "encoding": {"y": {"field": "m", "type": "quantitative", "title": "Price"}}},
   {"transform": [{"window": [{"op": "mean", "field": "c", "as": "m"}, {"op": "row_number", "as": "r"}], "frame": [-19, 0], "sort": [{"field": "i"}]}, {"filter": "datum.r >= 20"}], "mark": {"type": "line", "color": "#a3a3a3", "strokeWidth": 0.8, "clip": true}, "encoding": {"y": {"field": "m", "type": "quantitative", "title": "Price"}}}
  ]},
  {"mark": {"type": "bar", "size": 2, "clip": true},
   "encoding": {"y": {"field": "v", "type": "quantitative", "title": "Volume  10⁶", "scale": {"domain": [0, 10200000], "range": [117, 84], "nice": false, "zero": false}, "axis": {"orient": "right", "values": [2000000,4000000,6000000,8000000,10000000], "labelExpr": "format(datum.value/1000000,'d')", "labelOverlap": false, "tickCount": 20}},
    "color": {"condition": {"test": "datum.c >= datum.o", "value": "#6cc7a3"}, "value": "#f28b8b"}}}
 ]},
{"title": {"text": "SPXUSDT 15m 38.0"}, "width": 167, "height": 117, "data": {"name": "spx"},
 "encoding": {"x": {"field": "i", "type": "quantitative", "scale": {"domain": [-4, 63], "nice": false, "zero": false}, "axis": {"values": [0,10,20,30,40,50], "labelAngle": -45, "title": null, "grid": true, "labelExpr": "['Aug 14 16:00','Aug 14 18:30','Aug 14 21:00','Aug 14 23:30','Aug 15 02:00','Aug 15 04:30'][datum.value/10]"}}},
 "resolve": {"scale": {"y": "independent"}, "axis": {"y": "independent"}},
 "layer": [
  {"layer": [
   {"mark": {"type": "rule", "color": "#8c8c8c", "strokeWidth": 0.5, "clip": true}, "encoding": {"y": {"field": "l", "type": "quantitative", "title": "Price", "scale": {"domain": [1.469, 1.628], "range": [84, 0], "nice": false, "zero": false}, "axis": {"orient": "right", "values": [1.48,1.50,1.52,1.54,1.56,1.58,1.60,1.62], "format": ".2f", "labelOverlap": false, "tickCount": 20}}, "y2": {"field": "h"}}},
   {"mark": {"type": "bar", "size": 2, "clip": true}, "encoding": {"y": {"field": "o", "type": "quantitative", "title": "Price"}, "y2": {"field": "c"}, "color": {"condition": {"test": "datum.c >= datum.o", "value": "#26b07e"}, "value": "#f0353f"}}},
   {"transform": [{"window": [{"op": "mean", "field": "c", "as": "m"}, {"op": "row_number", "as": "r"}], "frame": [-4, 0], "sort": [{"field": "i"}]}, {"filter": "datum.r >= 5"}], "mark": {"type": "line", "color": "#6fb0d8", "strokeWidth": 0.8, "clip": true}, "encoding": {"y": {"field": "m", "type": "quantitative", "title": "Price"}}},
   {"transform": [{"window": [{"op": "mean", "field": "c", "as": "m"}, {"op": "row_number", "as": "r"}], "frame": [-9, 0], "sort": [{"field": "i"}]}, {"filter": "datum.r >= 10"}], "mark": {"type": "line", "color": "#f5a552", "strokeWidth": 0.8, "clip": true}, "encoding": {"y": {"field": "m", "type": "quantitative", "title": "Price"}}},
   {"transform": [{"window": [{"op": "mean", "field": "c", "as": "m"}, {"op": "row_number", "as": "r"}], "frame": [-19, 0], "sort": [{"field": "i"}]}, {"filter": "datum.r >= 20"}], "mark": {"type": "line", "color": "#a3a3a3", "strokeWidth": 0.8, "clip": true}, "encoding": {"y": {"field": "m", "type": "quantitative", "title": "Price"}}}
  ]},
  {"mark": {"type": "bar", "size": 2, "clip": true},
   "encoding": {"y": {"field": "v", "type": "quantitative", "title": "Volume  10⁶", "scale": {"domain": [80000, 1430000], "range": [117, 84], "nice": false, "zero": false}, "axis": {"orient": "right", "values": [250000,500000,750000,1000000,1250000], "labelExpr": "format(datum.value/1000000,'.2f')", "labelOverlap": false, "tickCount": 20}},
    "color": {"condition": {"test": "datum.c >= datum.o", "value": "#6cc7a3"}, "value": "#f28b8b"}}}
 ]},
{"title": {"text": "BTCUSDT 15m 9285.0"}, "width": 167, "height": 117, "data": {"name": "btc"},
 "encoding": {"x": {"field": "i", "type": "quantitative", "scale": {"domain": [-4, 63], "nice": false, "zero": false}, "axis": {"values": [0,10,20,30,40,50], "labelAngle": -45, "title": null, "grid": true, "labelExpr": "['Aug 14 16:00','Aug 14 18:30','Aug 14 21:00','Aug 14 23:30','Aug 15 02:00','Aug 15 04:30'][datum.value/10]"}}},
 "resolve": {"scale": {"y": "independent"}, "axis": {"y": "independent"}},
 "layer": [
  {"layer": [
   {"mark": {"type": "rule", "color": "#8c8c8c", "strokeWidth": 0.5, "clip": true}, "encoding": {"y": {"field": "l", "type": "quantitative", "title": "Price", "scale": {"domain": [116875, 119255], "range": [84, 0], "nice": false, "zero": false}, "axis": {"orient": "right", "values": [117000,117500,118000,118500,119000], "format": "d", "labelOverlap": false, "tickCount": 20}}, "y2": {"field": "h"}}},
   {"mark": {"type": "bar", "size": 2, "clip": true}, "encoding": {"y": {"field": "o", "type": "quantitative", "title": "Price"}, "y2": {"field": "c"}, "color": {"condition": {"test": "datum.c >= datum.o", "value": "#26b07e"}, "value": "#f0353f"}}},
   {"transform": [{"window": [{"op": "mean", "field": "c", "as": "m"}, {"op": "row_number", "as": "r"}], "frame": [-4, 0], "sort": [{"field": "i"}]}, {"filter": "datum.r >= 5"}], "mark": {"type": "line", "color": "#6fb0d8", "strokeWidth": 0.8, "clip": true}, "encoding": {"y": {"field": "m", "type": "quantitative", "title": "Price"}}},
   {"transform": [{"window": [{"op": "mean", "field": "c", "as": "m"}, {"op": "row_number", "as": "r"}], "frame": [-9, 0], "sort": [{"field": "i"}]}, {"filter": "datum.r >= 10"}], "mark": {"type": "line", "color": "#f5a552", "strokeWidth": 0.8, "clip": true}, "encoding": {"y": {"field": "m", "type": "quantitative", "title": "Price"}}},
   {"transform": [{"window": [{"op": "mean", "field": "c", "as": "m"}, {"op": "row_number", "as": "r"}], "frame": [-19, 0], "sort": [{"field": "i"}]}, {"filter": "datum.r >= 20"}], "mark": {"type": "line", "color": "#a3a3a3", "strokeWidth": 0.8, "clip": true}, "encoding": {"y": {"field": "m", "type": "quantitative", "title": "Price"}}}
  ]},
  {"mark": {"type": "bar", "size": 2, "clip": true},
   "encoding": {"y": {"field": "v", "type": "quantitative", "title": "Volume", "scale": {"domain": [460, 9600], "range": [117, 84], "nice": false, "zero": false}, "axis": {"orient": "right", "values": [2000,4000,6000,8000], "format": "d", "labelOverlap": false, "tickCount": 20}},
    "color": {"condition": {"test": "datum.c >= datum.o", "value": "#6cc7a3"}, "value": "#f28b8b"}}}
 ]},
{"title": {"text": "TAOUSDT 15m 104.0"}, "width": 167, "height": 117, "data": {"name": "tao"},
 "encoding": {"x": {"field": "i", "type": "quantitative", "scale": {"domain": [-4, 63], "nice": false, "zero": false}, "axis": {"values": [0,10,20,30,40,50], "labelAngle": -45, "title": null, "grid": true, "labelExpr": "['Aug 14 16:00','Aug 14 18:30','Aug 14 21:00','Aug 14 23:30','Aug 15 02:00','Aug 15 04:30'][datum.value/10]"}}},
 "resolve": {"scale": {"y": "independent"}, "axis": {"y": "independent"}},
 "layer": [
  {"layer": [
   {"mark": {"type": "rule", "color": "#8c8c8c", "strokeWidth": 0.5, "clip": true}, "encoding": {"y": {"field": "l", "type": "quantitative", "title": "Price", "scale": {"domain": [356.6, 380.7], "range": [84, 0], "nice": false, "zero": false}, "axis": {"orient": "right", "values": [360,365,370,375,380], "format": "d", "labelOverlap": false, "tickCount": 20}}, "y2": {"field": "h"}}},
   {"mark": {"type": "bar", "size": 2, "clip": true}, "encoding": {"y": {"field": "o", "type": "quantitative", "title": "Price"}, "y2": {"field": "c"}, "color": {"condition": {"test": "datum.c >= datum.o", "value": "#26b07e"}, "value": "#f0353f"}}},
   {"transform": [{"window": [{"op": "mean", "field": "c", "as": "m"}, {"op": "row_number", "as": "r"}], "frame": [-4, 0], "sort": [{"field": "i"}]}, {"filter": "datum.r >= 5"}], "mark": {"type": "line", "color": "#6fb0d8", "strokeWidth": 0.8, "clip": true}, "encoding": {"y": {"field": "m", "type": "quantitative", "title": "Price"}}},
   {"transform": [{"window": [{"op": "mean", "field": "c", "as": "m"}, {"op": "row_number", "as": "r"}], "frame": [-9, 0], "sort": [{"field": "i"}]}, {"filter": "datum.r >= 10"}], "mark": {"type": "line", "color": "#f5a552", "strokeWidth": 0.8, "clip": true}, "encoding": {"y": {"field": "m", "type": "quantitative", "title": "Price"}}},
   {"transform": [{"window": [{"op": "mean", "field": "c", "as": "m"}, {"op": "row_number", "as": "r"}], "frame": [-19, 0], "sort": [{"field": "i"}]}, {"filter": "datum.r >= 20"}], "mark": {"type": "line", "color": "#a3a3a3", "strokeWidth": 0.8, "clip": true}, "encoding": {"y": {"field": "m", "type": "quantitative", "title": "Price"}}}
  ]},
  {"mark": {"type": "bar", "size": 2, "clip": true},
   "encoding": {"y": {"field": "v", "type": "quantitative", "title": "Volume", "scale": {"domain": [260, 8750], "range": [117, 84], "nice": false, "zero": false}, "axis": {"orient": "right", "values": [2000,4000,6000,8000], "format": "d", "labelOverlap": false, "tickCount": 20}},
    "color": {"condition": {"test": "datum.c >= datum.o", "value": "#6cc7a3"}, "value": "#f28b8b"}}}
 ]},
{"title": {"text": "BANANAS31USDT 15m 10.0"}, "width": 167, "height": 117, "data": {"name": "banana"},
 "encoding": {"x": {"field": "i", "type": "quantitative", "scale": {"domain": [-4, 63], "nice": false, "zero": false}, "axis": {"values": [0,10,20,30,40,50], "labelAngle": -45, "title": null, "grid": true, "labelExpr": "['Aug 14 16:00','Aug 14 18:30','Aug 14 21:00','Aug 14 23:30','Aug 15 02:00','Aug 15 04:30'][datum.value/10]"}}},
 "resolve": {"scale": {"y": "independent"}, "axis": {"y": "independent"}},
 "layer": [
  {"layer": [
   {"mark": {"type": "rule", "color": "#8c8c8c", "strokeWidth": 0.5, "clip": true}, "encoding": {"y": {"field": "l", "type": "quantitative", "title": "Price", "scale": {"domain": [0.008712, 0.009005], "range": [84, 0], "nice": false, "zero": false}, "axis": {"orient": "right", "values": [0.00875,0.0088,0.00885,0.0089,0.00895,0.009], "format": ".5f", "labelOverlap": false, "tickCount": 20}}, "y2": {"field": "h"}}},
   {"mark": {"type": "bar", "size": 2, "clip": true}, "encoding": {"y": {"field": "o", "type": "quantitative", "title": "Price"}, "y2": {"field": "c"}, "color": {"condition": {"test": "datum.c >= datum.o", "value": "#26b07e"}, "value": "#f0353f"}}},
   {"transform": [{"window": [{"op": "mean", "field": "c", "as": "m"}, {"op": "row_number", "as": "r"}], "frame": [-4, 0], "sort": [{"field": "i"}]}, {"filter": "datum.r >= 5"}], "mark": {"type": "line", "color": "#6fb0d8", "strokeWidth": 0.8, "clip": true}, "encoding": {"y": {"field": "m", "type": "quantitative", "title": "Price"}}},
   {"transform": [{"window": [{"op": "mean", "field": "c", "as": "m"}, {"op": "row_number", "as": "r"}], "frame": [-9, 0], "sort": [{"field": "i"}]}, {"filter": "datum.r >= 10"}], "mark": {"type": "line", "color": "#f5a552", "strokeWidth": 0.8, "clip": true}, "encoding": {"y": {"field": "m", "type": "quantitative", "title": "Price"}}},
   {"transform": [{"window": [{"op": "mean", "field": "c", "as": "m"}, {"op": "row_number", "as": "r"}], "frame": [-19, 0], "sort": [{"field": "i"}]}, {"filter": "datum.r >= 20"}], "mark": {"type": "line", "color": "#a3a3a3", "strokeWidth": 0.8, "clip": true}, "encoding": {"y": {"field": "m", "type": "quantitative", "title": "Price"}}}
  ]},
  {"mark": {"type": "bar", "size": 2, "clip": true},
   "encoding": {"y": {"field": "v", "type": "quantitative", "title": "Volume  10⁶", "scale": {"domain": [2400000, 63700000], "range": [117, 84], "nice": false, "zero": false}, "axis": {"orient": "right", "values": [20000000,40000000,60000000], "labelExpr": "format(datum.value/1000000,'d')", "labelOverlap": false, "tickCount": 20}},
    "color": {"condition": {"test": "datum.c >= datum.o", "value": "#6cc7a3"}, "value": "#f28b8b"}}}
 ]}
]
}
